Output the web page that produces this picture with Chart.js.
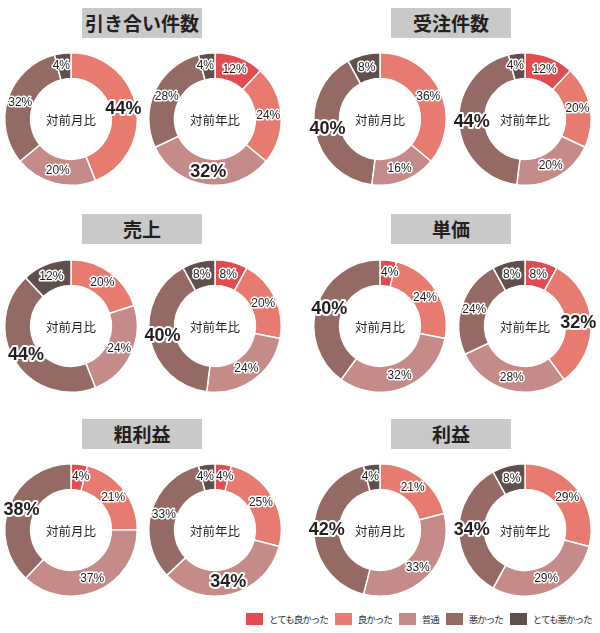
<!DOCTYPE html>
<html lang="ja">
<head>
    <meta charset="UTF-8">
    <title>満足度 ドーナツチャート</title>
    <script src="https://cdn.jsdelivr.net/npm/chart.js"></script>
    <style>
        body {
            margin: 0;
            width: 600px;
            height: 633px;
            position: relative;
            overflow: hidden;
            background: #fff;
            font-family: "Noto Sans CJK JP", "Noto Sans", sans-serif;
        }
        .title {
            position: absolute;
            width: 120px;
            height: 30px;
            line-height: 30px;
            background: #c9c9c9;
            color: #231f1f;
            font-size: 19px;
            font-weight: 700;
            text-align: center;
        }
        .pie {
            position: absolute;
            width: 150px;
            height: 150px;
        }
        .legend {
            position: absolute;
            left: 246px;
            top: 613px;
            height: 12px;
            display: flex;
            align-items: center;
            white-space: nowrap;
            font-size: 9.5px;
            letter-spacing: -1px;
            color: #333;
        }
        .legend span.box {
            display: inline-block;
            width: 17px;
            height: 12px;
            margin-right: 6px;
            flex: none;
        }
        .legend span.txt {
            margin-right: 7px;
            flex: none;
        }
    </style>
</head>
<body>

<div id="board"></div>
<div class="legend" id="legend"></div>

<script>
    // categories, clockwise from 12 o'clock
    const categories = ['とても良かった', '良かった', '普通', '悪かった', 'とても悪かった'];
    const colors = ['#e04c52', '#e87b6f', '#c48b89', '#966a64', '#5f504e'];

    const metrics = ['引き合い件数', '受注件数', '売上', '単価', '粗利益', '利益'];
    const periods = ['対前月比', '対前年比'];

    // values in % (per category)
    const inquiryMonth = [0, 44, 20, 32, 4];
    const inquiryYear = [12, 24, 32, 28, 4];
    const ordersMonth = [0, 36, 16, 40, 8];
    const ordersYear = [12, 20, 20, 44, 4];
    const salesMonth = [0, 20, 24, 44, 12];
    const salesYear = [8, 20, 24, 40, 8];
    const unitPriceMonth = [4, 24, 32, 40, 0];
    const unitPriceYear = [8, 32, 28, 24, 8];
    const grossMonth = [4, 21, 37, 38, 0];
    const grossYear = [4, 25, 34, 33, 4];
    const profitMonth = [0, 21, 33, 42, 4];
    const profitYear = [0, 29, 29, 34, 8];

    const series = [
        [inquiryMonth, inquiryYear],
        [ordersMonth, ordersYear],
        [salesMonth, salesYear],
        [unitPriceMonth, unitPriceYear],
        [grossMonth, grossYear],
        [profitMonth, profitYear]
    ];

    // layout of the grid
    const pieX = [71, 215, 380, 525];
    const pieY = [119, 326, 530];
    const titleX = [82, 391];
    const titleY = [8, 214, 419];

    // percentage labels, biggest slice in heavy type
    const pctLabels = {
        id: 'pctLabels',
        afterDatasetsDraw(chart) {
            const ctx = chart.ctx;
            const meta = chart.getDatasetMeta(0);
            const data = chart.data.datasets[0].data;
            const max = Math.max(...data);
            let first = data.findIndex(v => v > 0);
            let last = data.length - 1;
            while (last > 0 && !data[last]) last--;
            ctx.save();
            ctx.textBaseline = 'middle';
            ctx.lineJoin = 'round';
            meta.data.forEach((arc, i) => {
                const v = data[i];
                if (!v) return;
                const p = arc.tooltipPosition(true);
                const big = v === max;
                ctx.font = big ? 'bold 18px "Liberation Sans", Arial, sans-serif'
                               : '12px "Liberation Sans", Arial, sans-serif';
                const text = v + '%';
                const w = ctx.measureText(text).width;
                let x = p.x - w / 2;
                // keep labels of slices at the top from crossing the vertical line
                if (i === first && x < arc.x + 1) x = arc.x + 1;
                if (i === last && x + w > arc.x - 1) x = arc.x - 1 - w;
                ctx.textAlign = 'left';
                ctx.strokeStyle = '#fff';
                ctx.lineWidth = big ? 4 : 3;
                ctx.strokeText(text, x, p.y);
                ctx.fillStyle = '#231f1f';
                ctx.fillText(text, x, p.y);
            });
            ctx.restore();
        }
    };

    const centerText = {
        id: 'centerText',
        afterDraw(chart, args, opts) {
            const arc = chart.getDatasetMeta(0).data[0];
            const ctx = chart.ctx;
            ctx.save();
            ctx.font = '12.5px "Noto Sans CJK JP", sans-serif';
            ctx.fillStyle = '#231f1f';
            ctx.textAlign = 'center';
            ctx.textBaseline = 'middle';
            ctx.fillText(opts.text, arc.x, arc.y + 1);
            ctx.restore();
        }
    };

    const board = document.getElementById('board');

    metrics.forEach((name, m) => {
        const col = m % 2;
        const row = Math.floor(m / 2);

        const t = document.createElement('div');
        t.className = 'title';
        t.style.left = titleX[col] + 'px';
        t.style.top = titleY[row] + 'px';
        t.textContent = name;
        board.appendChild(t);

        periods.forEach((period, k) => {
            const wrap = document.createElement('div');
            wrap.className = 'pie';
            wrap.style.left = (pieX[col * 2 + k] - 75) + 'px';
            wrap.style.top = (pieY[row] - 75) + 'px';
            const canvas = document.createElement('canvas');
            canvas.width = 150;
            canvas.height = 150;
            wrap.appendChild(canvas);
            board.appendChild(wrap);

            new Chart(canvas.getContext('2d'), {
                type: 'doughnut',
                data: {
                    labels: categories,
                    datasets: [{
                        data: series[m][k],
                        backgroundColor: colors,
                        borderColor: '#fff',
                        borderWidth: 1.5,
                        hoverBorderWidth: 1.5,
                        hoverOffset: 0
                    }]
                },
                options: {
                    responsive: false,
                    animation: false,
                    events: [],
                    cutout: '61%',
                    layout: { padding: 8 },
                    plugins: {
                        legend: { display: false },
                        tooltip: { enabled: false },
                        centerText: { text: period }
                    }
                },
                plugins: [pctLabels, centerText]
            });
        });
    });

    // legend
    const legend = document.getElementById('legend');
    categories.forEach((c, i) => {
        legend.innerHTML += '<span class="box" style="background:' + colors[i] + '"></span>' +
            '<span class="txt">' + c + '</span>';
    });
</script>
</body>
</html>
